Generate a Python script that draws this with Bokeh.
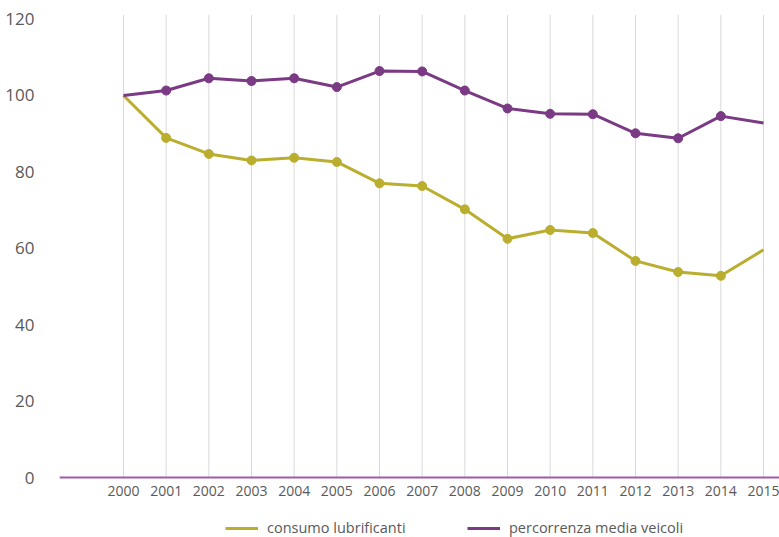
from bokeh.plotting import figure
from bokeh.models import Range1d, FixedTicker, Legend, LegendItem, Span
from bokeh.core.properties import value
from bokeh.embed import file_html
from bokeh.resources import INLINE

# Indici 2000 = 100
years = list(range(2000, 2016))
year_labels = [str(y) for y in years]
consumo_lubrificanti = [100.0, 88.9, 84.7, 83.0, 83.7, 82.6, 77.0, 76.3,
                        70.2, 62.5, 64.8, 64.0, 56.7, 53.8, 52.8, 59.6]
percorrenza_media = [100.0, 101.3, 104.5, 103.8, 104.5, 102.2, 106.4, 106.3,
                     101.3, 96.6, 95.2, 95.1, 90.1, 88.8, 94.6, 92.8]
y_ticks = [0, 20, 40, 60, 80, 100, 120]

YELLOW = "#BAAE2F"
PURPLE = "#7A3A84"
AXIS_PURPLE = "#A35BA5"
GRID = "#D9D9D9"
TEXT = "#595959"
FONT = "Open Sans"

Y_TOP = 121.2
Y_BOTTOM = -15.7   # room under the zero line for year labels and legend

p = figure(width=779, height=537, output_backend="svg", toolbar_location=None,
           x_range=Range1d(1998.5, 2015.375), y_range=Range1d(Y_BOTTOM, Y_TOP),
           min_border_left=59, min_border_right=0, min_border_top=14,
           min_border_bottom=0)
p.outline_line_color = None
p.background_fill_color = "white"
p.border_fill_color = "white"
p.xgrid.grid_line_color = None
p.ygrid.grid_line_color = None
p.xaxis.visible = False

p.yaxis.ticker = FixedTicker(ticks=y_ticks)
p.yaxis.axis_line_color = None
p.yaxis.major_tick_line_color = None
p.yaxis.minor_tick_line_color = None
p.yaxis.major_label_text_font = FONT
p.yaxis.major_label_text_font_size = "17px"
p.yaxis.major_label_text_color = TEXT
p.yaxis.major_label_standoff = 19

# vertical grid lines at each year, from zero to the top
p.segment(x0=years, y0=[0] * len(years), x1=years, y1=[Y_TOP] * len(years),
          line_color=GRID, line_width=1)

# category axis line at zero
p.add_layout(Span(location=0, dimension="width", line_color=AXIS_PURPLE,
                  line_width=2))

# year labels under the zero line
p.text(x=years, y=[-3.4] * len(years), text=year_labels,
       text_align="center", text_baseline="middle",
       text_font=value(FONT), text_font_size="14px", text_color=TEXT)

r_cons = p.line(years, consumo_lubrificanti, line_color=YELLOW, line_width=3)
p.scatter(years[1:-1], consumo_lubrificanti[1:-1], size=9,
          fill_color=YELLOW, line_color=YELLOW)
r_perc = p.line(years, percorrenza_media, line_color=PURPLE, line_width=3)
p.scatter(years[1:-1], percorrenza_media[1:-1], size=9,
          fill_color=PURPLE, line_color=PURPLE)


def make_legend(label, renderer, loc):
    return Legend(items=[LegendItem(label=label, renderers=[renderer])],
                  location=loc, orientation="horizontal",
                  padding=0, margin=0, spacing=0,
                  glyph_width=33, glyph_height=16, label_height=16,
                  label_standoff=9, border_line_color=None,
                  background_fill_alpha=0,
                  label_text_font=FONT, label_text_font_size="14.5px",
                  label_text_color=TEXT)


p.add_layout(make_legend("consumo lubrificanti", r_cons, (166, 0)), "center")
p.add_layout(make_legend("percorrenza media veicoli", r_perc, (408, 0)), "center")

open("out.html", "w").write(file_html(p, INLINE))
